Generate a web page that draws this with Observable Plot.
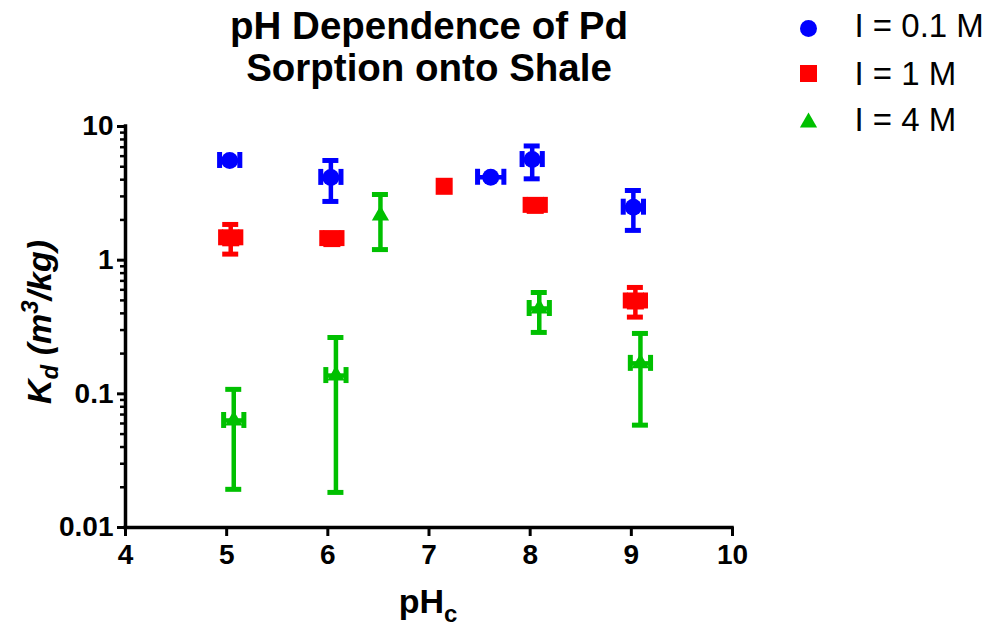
<!DOCTYPE html>
<html><head><meta charset="utf-8">
<script src="https://cdn.jsdelivr.net/npm/d3@7"></script>
<script src="https://cdn.jsdelivr.net/npm/@observablehq/plot@0.6"></script>
<style>body{margin:0;background:#fff}</style>
</head><body><div id="chart"></div>
<script>
const titleLines = ["pH Dependence of Pd", "Sorption onto Shale"];
const seriesNames = ["I = 0.1 M", "I = 1 M", "I = 4 M"];
const seriesColors = ["#0000ff", "#ff0000", "#00c000"];
const seriesSymbols = ["circle", "square", "triangle"];

const xTicks = [4, 5, 6, 7, 8, 9, 10];
const yTicks = [0.01, 0.1, 1, 10];
const yTickLabels = ["0.01", "0.1", "1", "10"];
const yMinorTicks = [0.02, 0.03, 0.04, 0.05, 0.06, 0.07, 0.08, 0.09,
                     0.2, 0.3, 0.4, 0.5, 0.6, 0.7, 0.8, 0.9,
                     2, 3, 4, 5, 6, 7, 8, 9];

// I = 0.1 M
const blueX = [5.03, 6.03, 7.61, 8.02, 9.02];
const blueY = [5.57, 4.16, 4.17, 5.66, 2.49];
const blueYLo = [null, 2.75, null, 4.06, 1.67];
const blueYHi = [null, 5.57, null, 7.15, 3.32];
const blueXErr = [0.1, 0.1, 0.13, 0.1, 0.1];
// I = 1 M
const redX = [5.04, 6.04, 7.15, 8.05, 9.04];
const redY = [1.47, 1.45, 3.57, 2.57, 0.495];
const redYLo = [1.11, null, null, null, 0.375];
const redYHi = [1.85, null, null, null, 0.625];
const redXErr = [0.1, 0.1, null, 0.1, 0.1];
// I = 4 M
const greenX = [5.07, 6.08, 6.52, 8.09, 9.09];
const greenY = [0.0632, 0.137, 2.16, 0.435, 0.169];
const greenYLo = [0.0193, 0.0183, 1.20, 0.288, 0.0583];
const greenYHi = [0.108, 0.264, 3.10, 0.573, 0.283];
const greenXErr = [0.1, 0.1, null, 0.1, 0.1];

const seriesData = [
  [blueX, blueY, blueYLo, blueYHi, blueXErr],
  [redX, redY, redYLo, redYHi, redXErr],
  [greenX, greenY, greenYLo, greenYHi, greenXErr]
].map(([X, Y, Lo, Hi, XE]) => X.map((x, i) => ({x, y: Y[i], lo: Lo[i], hi: Hi[i], xe: XE[i]})));

const symR = [8.5, 9.6, 6.4];
const legendDy = [-98, -53, -4];
const legendTextDy = [-100, -52, -6];
const FONT = "Liberation Sans, Arial, Helvetica, sans-serif";

const marks = [];
seriesData.forEach((rows, s) => {
  const c = seriesColors[s];
  const ry = rows.filter(d => d.lo != null);
  const rx = rows.filter(d => d.xe != null);
  marks.push(
    Plot.ruleX(ry, {x: "x", y1: "lo", y2: "hi", stroke: c, strokeWidth: 4.5}),
    Plot.ruleY(ry, {y: "hi", x1: "x", x2: "x", insetLeft: -8, insetRight: -8, stroke: c, strokeWidth: 5}),
    Plot.ruleY(ry, {y: "lo", x1: "x", x2: "x", insetLeft: -8, insetRight: -8, stroke: c, strokeWidth: 5}),
    Plot.ruleY(rx, {y: "y", x1: d => d.x - d.xe, x2: d => d.x + d.xe, stroke: c, strokeWidth: 4.5}),
    Plot.ruleX(rx, {x: d => d.x - d.xe, y1: "y", y2: "y", insetTop: -8, insetBottom: -8, stroke: c, strokeWidth: 5}),
    Plot.ruleX(rx, {x: d => d.x + d.xe, y1: "y", y2: "y", insetTop: -8, insetBottom: -8, stroke: c, strokeWidth: 5}),
    Plot.dot(rows, {x: "x", y: "y", symbol: seriesSymbols[s], fill: c, stroke: "none", r: symR[s]}),
    Plot.dot([seriesNames[s]], {frameAnchor: "top-right", dx: 76, dy: legendDy[s], symbol: seriesSymbols[s], fill: c, stroke: "none", r: symR[s]}),
    Plot.text([seriesNames[s]], {frameAnchor: "top-right", dx: 122, dy: legendTextDy[s], text: d => d, textAnchor: "start", lineAnchor: "middle", fontSize: 33, fill: "#000"})
  );
});

const chart = Plot.plot({
  width: 993,
  height: 632,
  marginLeft: 125,
  marginRight: 261,
  marginTop: 126,
  marginBottom: 105,
  style: {fontFamily: FONT, background: "#fff", color: "#000"},
  x: {domain: [4, 10]},
  y: {type: "log", domain: [0.01, 10]},
  marks: [
    Plot.axisX({ticks: xTicks, tickSize: 9, tickPadding: 8, strokeWidth: 3, fontSize: 28, fontWeight: "bold", label: null, tickFormat: d => String(d)}),
    Plot.axisY({ticks: yTicks, tickSize: 8, tickPadding: 4, strokeWidth: 3, fontSize: 28, fontWeight: "bold", label: null, tickFormat: d => yTickLabels[yTicks.indexOf(d)]}),
    Plot.axisY({ticks: yMinorTicks, tickSize: 5, strokeWidth: 2.5, tickFormat: () => "", label: null}),
    Plot.ruleX([4], {strokeWidth: 3.5, strokeLinecap: "square"}),
    Plot.ruleY([0.01], {strokeWidth: 3.5, strokeLinecap: "square"}),
    Plot.text([titleLines.join("\n")], {frameAnchor: "top", dy: -118, lineAnchor: "top", text: d => d, fontSize: 38.5, fontWeight: "bold", lineHeight: 1.1, fill: "#000"}),
    ...marks
  ]
});
document.getElementById("chart").appendChild(chart);

const svg = d3.select(chart);
// y-axis label with subscript and superscript
const yl = svg.append("text")
  .attr("transform", "translate(51,322) rotate(-90)")
  .attr("text-anchor", "middle")
  .attr("font-family", FONT)
  .attr("font-size", 34)
  .attr("font-weight", "bold")
  .attr("font-style", "italic")
  .attr("fill", "#000");
yl.append("tspan").text("K");
yl.append("tspan").attr("font-size", 24).attr("dy", 7).text("d");
yl.append("tspan").attr("dy", -7).text(" (m");
yl.append("tspan").attr("font-size", 24).attr("dy", -13).text("3");
yl.append("tspan").attr("dy", 13).text("/kg)");
// x-axis label
const xl = svg.append("text")
  .attr("x", 428)
  .attr("y", 613)
  .attr("text-anchor", "middle")
  .attr("font-family", FONT)
  .attr("font-size", 34)
  .attr("font-weight", "bold")
  .attr("fill", "#000");
xl.append("tspan").text("pH");
xl.append("tspan").attr("font-size", 24).attr("dy", 9).text("c");
</script>
</body></html>
